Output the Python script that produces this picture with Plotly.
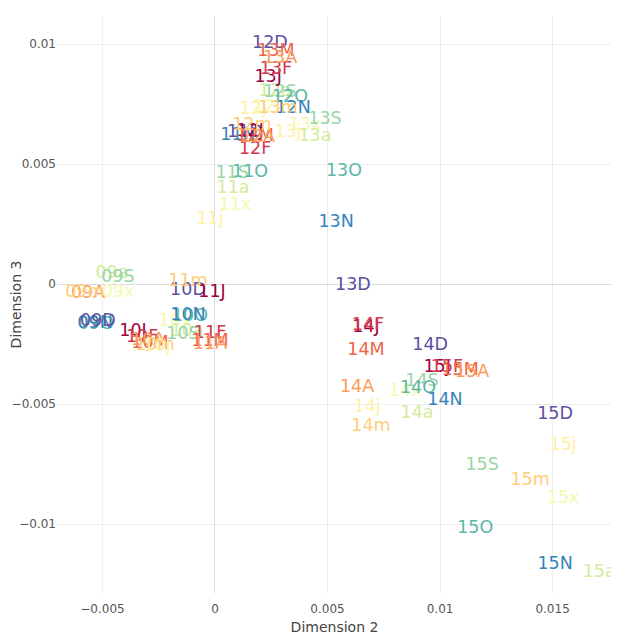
import plotly.graph_objects as go
from plotly.colors import sample_colorscale
import plotly.express as px

# month codes in colour order
months = ["J", "F", "M", "A", "m", "j", "x", "a", "S", "O", "N", "D"]

labels = [
    "09A", "09m", "09x", "09a", "09S", "09O", "09N", "09D",
    "10J", "10F", "10M", "10A", "10m", "10j", "10x", "10a", "10S", "10O", "10N", "10D",
    "11J", "11F", "11M", "11A", "11m", "11j", "11x", "11a", "11S", "11O", "11N", "11D",
    "12J", "12F", "12M", "12A", "12m", "12j", "12x", "12a", "12S", "12O", "12N", "12D",
    "13J", "13F", "13M", "13A", "13m", "13j", "13x", "13a", "13S", "13O", "13N", "13D",
    "14J", "14F", "14M", "14A", "14m", "14j", "14x", "14a", "14S", "14O", "14N", "14D",
    "15J", "15F", "15M", "15A", "15m", "15j", "15x", "15a", "15S", "15O", "15N", "15D",
]

dim2 = [
    -0.00564, -0.00578, -0.00431, -0.00458, -0.00431, -0.00529, -0.00533, -0.00520,
    -0.00364, -0.00324, -0.00289, -0.00298, -0.00267, -0.00258, -0.00178, -0.00124, -0.00142, -0.00111, -0.00120, -0.00120,
    -0.00013, -0.00022, -0.00022, -0.00022, -0.00120, -0.00022, 0.00089, 0.00080, 0.00076, 0.00156, 0.00102, 0.00133,
    0.00156, 0.00178, 0.00178, 0.00191, 0.00164, 0.00169, 0.00240, 0.00267, 0.00289, 0.00333, 0.00347, 0.00244,
    0.00236, 0.00271, 0.00271, 0.00289, 0.00280, 0.00324, 0.00400, 0.00444, 0.00489, 0.00573, 0.00538, 0.00613,
    0.00671, 0.00680, 0.00671, 0.00631, 0.00693, 0.00676, 0.00844, 0.00898, 0.00920, 0.00902, 0.01022, 0.00956,
    0.00987, 0.01031, 0.01089, 0.01142, 0.01400, 0.01547, 0.01547, 0.01707, 0.01187, 0.01156, 0.01511, 0.01511,
]

dim3 = [
    -0.00041, -0.00037, -0.00037, 0.00042, 0.00025, -0.00171, -0.00166, -0.00158,
    -0.00200, -0.00225, -0.00250, -0.00237, -0.00258, -0.00262, -0.00158, -0.00200, -0.00212, -0.00137, -0.00133, -0.00029,
    -0.00037, -0.00208, -0.00241, -0.00254, 0.00009, 0.00267, 0.00325, 0.00396, 0.00459, 0.00463, 0.00617, 0.00630,
    0.00634, 0.00559, 0.00613, 0.00609, 0.00662, 0.00725, 0.00734, 0.00800, 0.00796, 0.00775, 0.00730, 0.01000,
    0.00859, 0.00892, 0.00967, 0.00938, 0.00730, 0.00630, 0.00659, 0.00613, 0.00684, 0.00467, 0.00255, -0.00008,
    -0.00183, -0.00175, -0.00279, -0.00433, -0.00596, -0.00516, -0.00450, -0.00541, -0.00408, -0.00437, -0.00487, -0.00258,
    -0.00350, -0.00350, -0.00362, -0.00371, -0.00821, -0.00675, -0.00896, -0.01204, -0.00758, -0.01021, -0.01171, -0.00546,
]

palette = sample_colorscale(px.colors.diverging.Spectral, [i / 11 for i in range(12)])
month_color = dict(zip(months, palette))
colors = [month_color[l[2]] for l in labels]

fig = go.Figure(
    go.Scatter(
        x=dim2, y=dim3, mode="text", text=labels,
        textposition="middle center",
        textfont=dict(color=colors, size=17.5, family="DejaVu Sans"),
        hoverinfo="text", showlegend=False, cliponaxis=False,
    )
)

axis_common = dict(
    showgrid=True, gridcolor="#eeeeee", gridwidth=1,
    zeroline=True, zerolinecolor="#dcdcdc", zerolinewidth=1,
    showline=False, automargin=False,
    tickfont=dict(family="DejaVu Sans", size=12, color="#555555"),
    title_font=dict(family="DejaVu Sans", size=14, color="#444444"),
)

fig.update_layout(
    width=611, height=631,
    margin=dict(l=49, r=7, t=8, b=46),
    paper_bgcolor="white", plot_bgcolor="white",
    xaxis=dict(title=dict(text="Dimension 2", standoff=6), range=[-0.00702, 0.01764],
               ticks="outside", ticklen=5, tickcolor="rgba(0,0,0,0)",
               tickvals=[-0.005, 0, 0.005, 0.01, 0.015],
               ticktext=["\u22120.005", "0", "0.005", "0.01", "0.015"], **axis_common),
    yaxis=dict(title=dict(text="Dimension 3", standoff=8), range=[-0.012875, 0.011167],
               ticks="",
               tickvals=[-0.01, -0.005, 0, 0.005, 0.01],
               ticktext=["\u22120.01", "\u22120.005", "0", "0.005", "0.01"], **axis_common),
)

fig.write_html("out.html")
